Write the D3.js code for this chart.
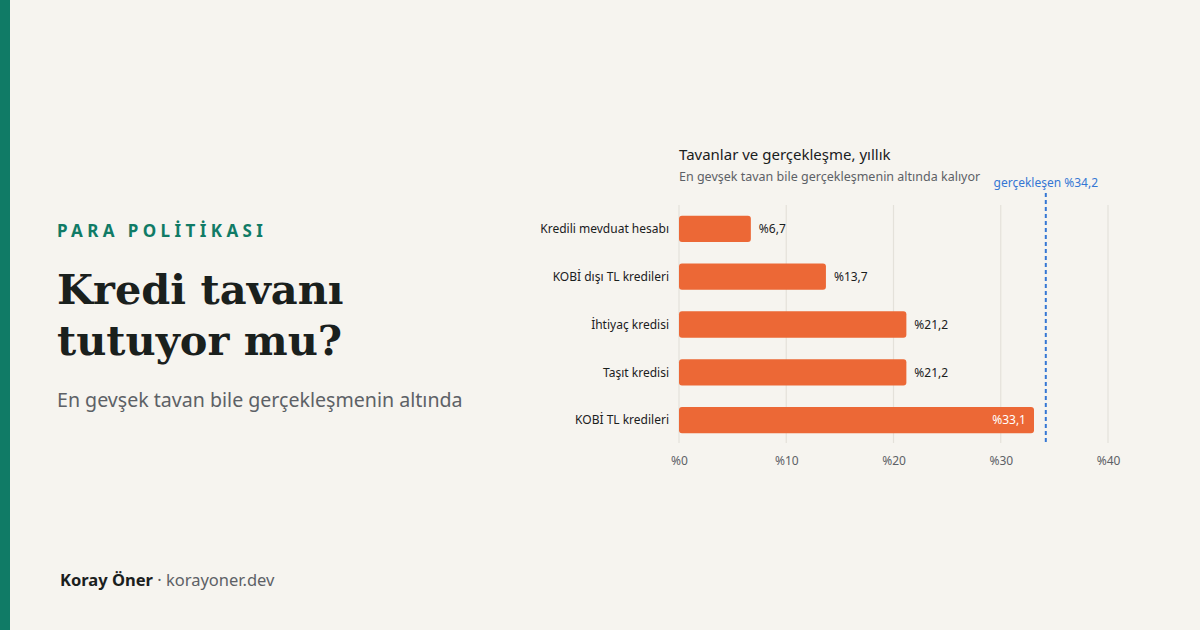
<!DOCTYPE html>
<html><head><meta charset="utf-8">
<script src="https://cdn.jsdelivr.net/npm/d3@7"></script>
<style>
html,body{margin:0;padding:0;background:#f6f4ef;}
svg{display:block;}
</style></head>
<body>
<svg id="c" width="1200" height="630"></svg>
<script>
const categories = ["Kredili mevduat hesabı","KOBİ dışı TL kredileri","İhtiyaç kredisi","Taşıt kredisi","KOBİ TL kredileri"];
const values = [6.7, 13.7, 21.2, 21.2, 33.1];
const valueLabels = ["%6,7","%13,7","%21,2","%21,2","%33,1"];
const tickValues = [0,10,20,30,40];
const tickLabels = ["%0","%10","%20","%30","%40"];
const realized = 34.2;
const realizedLabel = "gerçekleşen %34,2";

const sans = "'Segoe UI','Noto Sans','Open Sans',sans-serif";
const serif = "Georgia,'DejaVu Serif','Liberation Serif',serif";
const svg = d3.select("#c");
svg.append("rect").attr("width",1200).attr("height",630).attr("fill","#f6f4ef");
svg.append("rect").attr("width",10).attr("height",630).attr("fill","#107b66");

svg.append("text").attr("x",57).attr("y",237).text("PARA POLİTİKASI")
  .attr("font-family",sans).attr("font-weight",700).attr("font-size",17)
  .attr("letter-spacing","4.4px").attr("fill","#107b66");
const title = svg.append("text").attr("font-family",serif).attr("font-weight",700)
  .attr("font-size",41.5).attr("fill","#1a201d");
title.append("tspan").attr("x",57).attr("y",304).text("Kredi tavanı");
title.append("tspan").attr("x",57).attr("y",355).text("tutuyor mu?");
svg.append("text").attr("x",57).attr("y",407).text("En gevşek tavan bile gerçekleşmenin altında")
  .attr("font-family",sans).attr("font-size",19.6).attr("fill","#5d6166");

const foot = svg.append("text").attr("x",60).attr("y",586).attr("font-family",sans).attr("font-size",16.5);
foot.append("tspan").text("Koray Öner").attr("font-weight",700).attr("fill","#1a201d");
foot.append("tspan").text(" · korayoner.dev").attr("fill","#5d6166");

// chart
const x = d3.scaleLinear().domain([0,40]).range([679,1108]);
const y = d3.scaleBand().domain(categories).range([205,444]).paddingInner(0.45).paddingOuter(0.225);

svg.append("text").attr("x",679).attr("y",160).text("Tavanlar ve gerçekleşme, yıllık")
  .attr("font-family",sans).attr("font-size",15).attr("fill","#1a201d");
svg.append("text").attr("x",679).attr("y",181).text("En gevşek tavan bile gerçekleşmenin altında kalıyor")
  .attr("font-family",sans).attr("font-size",12.5).attr("fill","#5d6166");

svg.append("g").selectAll("line").data(tickValues).join("line")
  .attr("x1",d=>x(d)).attr("x2",d=>x(d)).attr("y1",205).attr("y2",443)
  .attr("stroke","#e4e1da").attr("stroke-width",1.2);

const axis = svg.append("g").attr("transform","translate(0,444)")
  .call(d3.axisBottom(x).tickValues(tickValues).tickFormat((d,i)=>tickLabels[i]).tickSize(0).tickPadding(10));
axis.select(".domain").remove();
axis.selectAll("text").attr("font-family",sans).attr("font-size",12).attr("fill","#5d6166").attr("dy","0.9em");

svg.append("g").selectAll("rect").data(values).join("rect")
  .attr("x",x(0)).attr("y",(d,i)=>y(categories[i]))
  .attr("width",d=>x(d)-x(0)).attr("height",y.bandwidth())
  .attr("rx",3).attr("fill","#ec6836");

svg.append("g").selectAll("text").data(categories).join("text")
  .attr("x",x(0)-10).attr("y",d=>y(d)+y.bandwidth()/2).attr("dy","0.35em")
  .attr("text-anchor","end").text(d=>d)
  .attr("font-family",sans).attr("font-size",12).attr("fill","#1a201d");

svg.append("g").selectAll("text").data(values).join("text")
  .attr("x",d=> d>30 ? x(d)-8 : x(d)+8)
  .attr("y",(d,i)=>y(categories[i])+y.bandwidth()/2).attr("dy","0.35em")
  .attr("text-anchor",d=> d>30 ? "end":"start")
  .text((d,i)=>valueLabels[i])
  .attr("font-family",sans).attr("font-size",12).attr("fill",d=> d>30 ? "#ffffff":"#1a201d");

svg.append("line").attr("x1",x(realized)).attr("x2",x(realized)).attr("y1",193).attr("y2",443)
  .attr("stroke","#3577d4").attr("stroke-width",2).attr("stroke-dasharray","4,3");
svg.append("text").attr("x",x(realized)).attr("y",187).attr("text-anchor","middle").text(realizedLabel)
  .attr("font-family",sans).attr("font-size",12).attr("fill","#3577d4");
</script>
</body></html>
